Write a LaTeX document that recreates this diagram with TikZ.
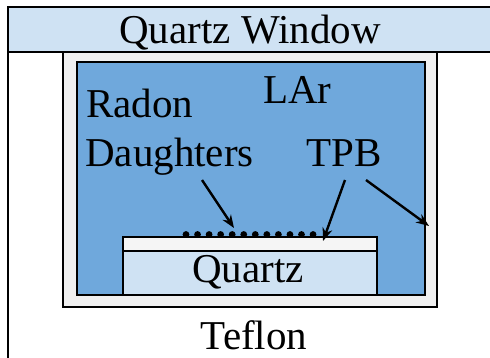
\documentclass[tikz,border=0pt]{standalone}
\usepackage{fontspec}
\setmainfont{Liberation Serif}
\newfontfamily\timesfont{Liberation Serif}
\usetikzlibrary{arrows.meta}
\definecolor{lar}{RGB}{111,168,220}
\definecolor{qz}{RGB}{207,226,243}
\definecolor{tef}{RGB}{240,240,240}
\definecolor{tpb}{RGB}{245,245,245}
\tikzset{
  wall/.style={draw=black, line width=2.2pt},
  lbl/.style={inner sep=0pt, anchor=base west, font=\timesfont\fontsize{41}{41}\selectfont},
  ptr/.style={line width=2.4pt, -{Stealth[length=13pt,width=10pt]}},
  dotm/.style={fill=black, draw=none}
}
\begin{document}
\begin{tikzpicture}[x=1pt,y=-1pt]
\useasboundingbox (0,0) rectangle (490,357);
\clip (0,0) rectangle (490,357);
% outer Teflon
\draw[wall, fill=white] (8,7) rectangle (500,370);
% quartz window
\draw[wall, fill=qz] (8,7) rectangle (500,52);
% teflon cup
\draw[wall, fill=tef] (63,52) rectangle (437,307);
% LAr
\draw[wall, fill=lar] (77,62) rectangle (425,295);
% TPB and quartz block
\draw[wall, fill=tpb] (123,237) rectangle (377,251);
\draw[wall, fill=qz] (123,251) rectangle (377,295);
% radon daughters dots
\foreach \i in {0,...,11} {
  \fill[dotm] (186+\i*11.55,234.5) circle (3.4);
}
% labels
\node[lbl, anchor=base] (win) at (250,43) {Quartz Window};
\node[lbl] (lar) at (263,103) {LAr};
\node[lbl] (radon) at (86,117) {Radon};
\node[lbl] (daught) at (85,166) {Daughters};
\node[lbl] (tpb) at (306,166) {TPB};
\node[lbl, anchor=base] (quartz) at (248,282) {Quartz};
\node[lbl, anchor=base] (teflon) at (254,349) {Teflon};
% arrows
\coordinate (rs) at (202,180);
\coordinate (rt) at (234,228);
\coordinate (ts1) at (345,180);
\coordinate (tt1) at (323,241);
\coordinate (ts2) at (366,180);
\coordinate (tt2) at (429,226);
\draw[ptr] (rs) -- (rt);
\draw[ptr] (ts1) -- (tt1);
\draw[ptr] (ts2) -- (tt2);
\end{tikzpicture}
\end{document}
